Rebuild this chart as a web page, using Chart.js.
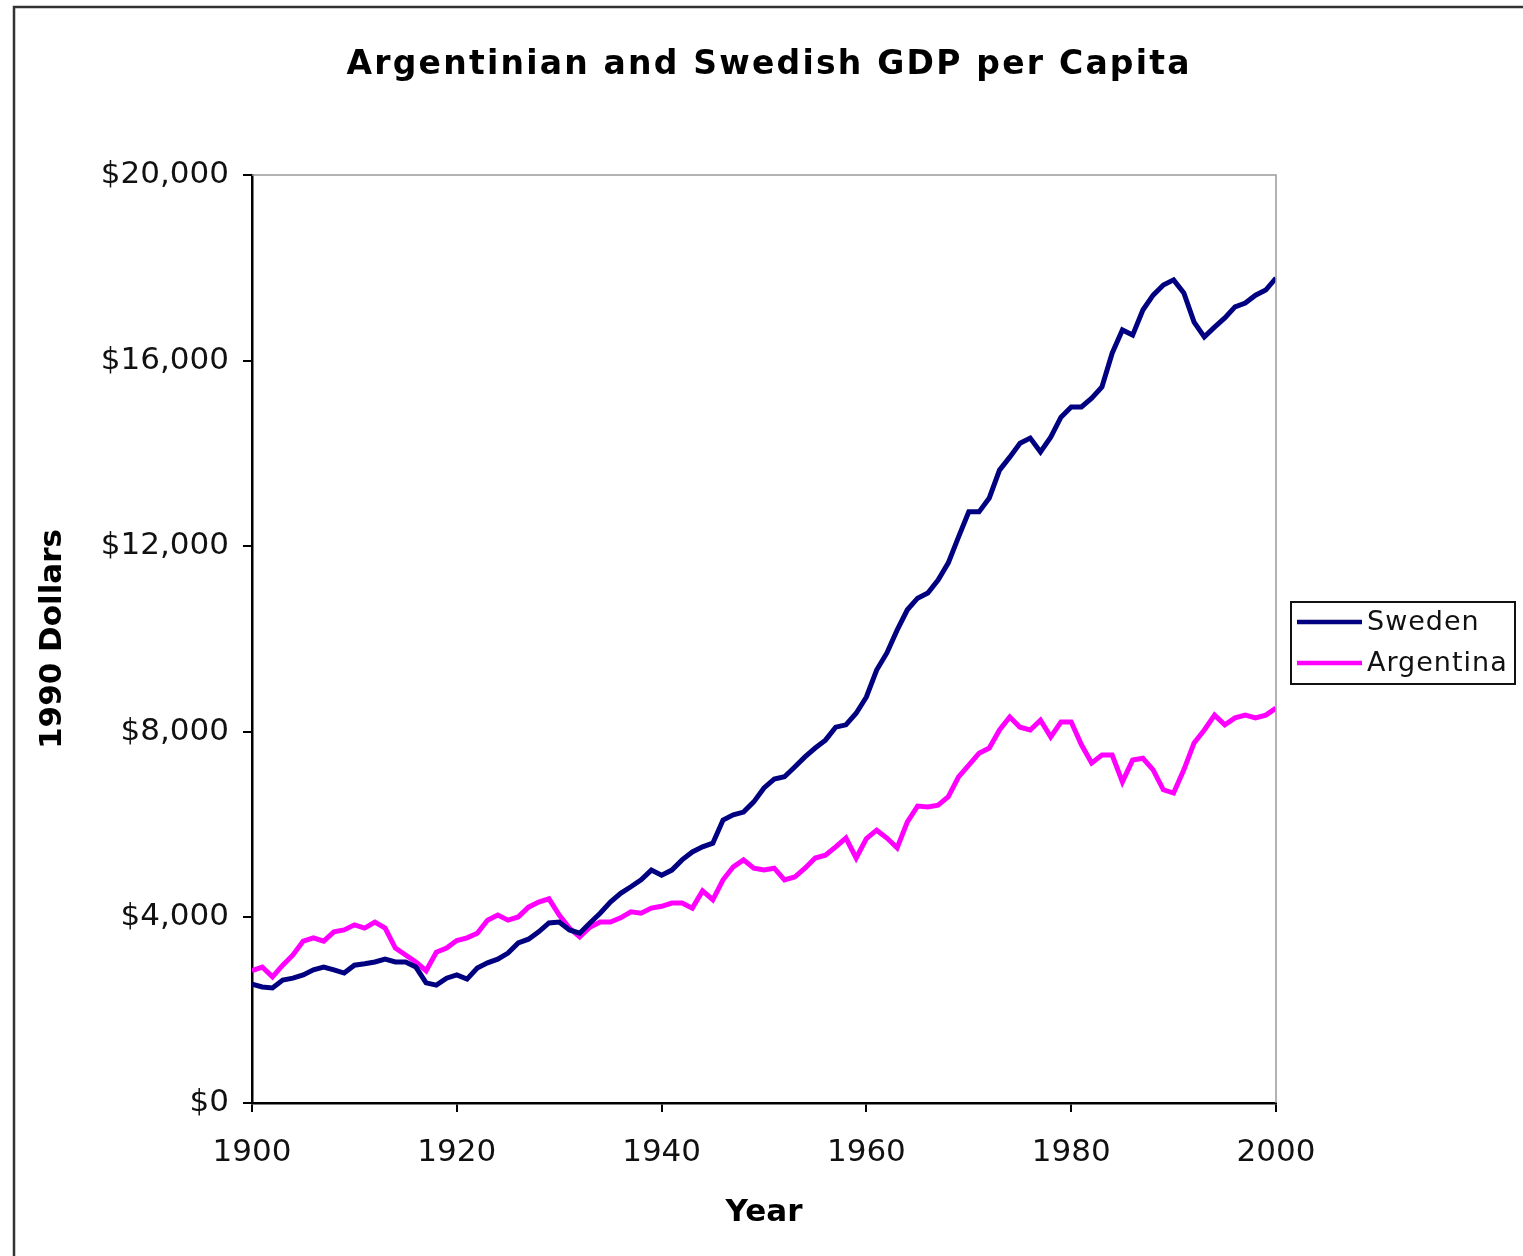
<!DOCTYPE html>
<html>
<head>
<meta charset="utf-8">
<title>Argentinian and Swedish GDP per Capita</title>
<script src="https://cdn.jsdelivr.net/npm/chart.js@4.4.1/dist/chart.umd.min.js"></script>
<style>
  html, body { margin: 0; padding: 0; background: #ffffff; }
  #wrap { width: 1523px; height: 1256px; position: relative; }
</style>
</head>
<body>
<div id="wrap"><canvas id="gdp" width="1523" height="1256"></canvas></div>
<script>
// GDP per capita, 1990 dollars
const chartTitle = 'Argentinian and Swedish GDP per Capita';
const xTitle = 'Year';
const yTitle = '1990 Dollars';

const years = [
  1900, 1901, 1902, 1903, 1904, 1905, 1906, 1907, 1908, 1909,
  1910, 1911, 1912, 1913, 1914, 1915, 1916, 1917, 1918, 1919,
  1920, 1921, 1922, 1923, 1924, 1925, 1926, 1927, 1928, 1929,
  1930, 1931, 1932, 1933, 1934, 1935, 1936, 1937, 1938, 1939,
  1940, 1941, 1942, 1943, 1944, 1945, 1946, 1947, 1948, 1949,
  1950, 1951, 1952, 1953, 1954, 1955, 1956, 1957, 1958, 1959,
  1960, 1961, 1962, 1963, 1964, 1965, 1966, 1967, 1968, 1969,
  1970, 1971, 1972, 1973, 1974, 1975, 1976, 1977, 1978, 1979,
  1980, 1981, 1982, 1983, 1984, 1985, 1986, 1987, 1988, 1989,
  1990, 1991, 1992, 1993, 1994, 1995, 1996, 1997, 1998, 1999,
  2000
];

const sweden = [
  2560, 2500, 2480, 2650, 2690, 2760, 2870, 2930, 2870, 2800,
  2970, 3000, 3040, 3100, 3040, 3040, 2930, 2590, 2540, 2690,
  2760, 2670, 2910, 3020, 3100, 3230, 3450, 3530, 3690, 3880,
  3900, 3730, 3660, 3880, 4090, 4330, 4520, 4660, 4810, 5020,
  4910, 5020, 5240, 5410, 5520, 5600, 6100, 6210, 6270, 6490,
  6790, 6980, 7030, 7240, 7460, 7650, 7820, 8100, 8150, 8400,
  8750, 9330, 9700, 10190, 10630, 10880, 10990, 11270, 11640, 12200,
  12740, 12740, 13040, 13640, 13920, 14220, 14330, 14030, 14350, 14780,
  15000, 15000, 15190, 15430, 16160, 16660, 16550, 17090, 17410, 17630,
  17740, 17460, 16830, 16510, 16720, 16920, 17160, 17240, 17410, 17520,
  17780
];

const argentina = [
  2850, 2930, 2720, 2970, 3190, 3490, 3560, 3490, 3690, 3730,
  3840, 3770, 3900, 3770, 3340, 3190, 3040, 2850, 3250, 3340,
  3500, 3560, 3660, 3940, 4050, 3940, 4010, 4220, 4330, 4400,
  4050, 3770, 3580, 3790, 3900, 3900, 3990, 4120, 4090, 4200,
  4240, 4310, 4310, 4200, 4570, 4380, 4810, 5090, 5240, 5060,
  5020, 5060, 4810, 4870, 5060, 5280, 5340, 5520, 5710, 5280,
  5700, 5880, 5710, 5500, 6060, 6400, 6380, 6420, 6600, 7030,
  7280, 7540, 7650, 8040, 8320, 8100, 8040, 8250, 7890, 8210,
  8210, 7720, 7330, 7500, 7500, 6920, 7390, 7430, 7180, 6750,
  6680, 7180, 7760, 8040, 8360, 8150, 8300, 8360, 8300, 8360,
  8510
];

const seriesNames = ['Sweden', 'Argentina'];
const seriesColors = ['#000080', '#ff00ff'];

const yTicks = [0, 4000, 8000, 12000, 16000, 20000];
const xTicks = [1900, 1920, 1940, 1960, 1980, 2000];

function toPoints(values) {
  return years.map((yr, i) => ({ x: yr, y: values[i] }));
}

// Frame round the whole figure, centred title, grey top/right plot edges
const framePlugin = {
  id: 'frame',
  beforeDraw(chart) {
    const ctx = chart.ctx;
    ctx.save();
    ctx.fillStyle = '#ffffff';
    ctx.fillRect(0, 0, chart.width, chart.height);
    ctx.strokeStyle = '#333333';
    ctx.lineWidth = 2.5;
    ctx.beginPath();
    ctx.moveTo(14, chart.height + 5);
    ctx.lineTo(14, 7);
    ctx.lineTo(chart.width + 5, 7);
    ctx.stroke();
    ctx.restore();
  },
  afterDatasetsDraw(chart) {
    const { ctx, chartArea } = chart;
    ctx.save();
    ctx.strokeStyle = '#9a9a9a';
    ctx.lineWidth = 1.5;
    ctx.beginPath();
    ctx.moveTo(chartArea.left, chartArea.top);
    ctx.lineTo(chartArea.right, chartArea.top);
    ctx.lineTo(chartArea.right, chartArea.bottom);
    ctx.stroke();
    ctx.restore();
  },
  afterDraw(chart) {
    const ctx = chart.ctx;
    ctx.save();
    ctx.fillStyle = '#000000';
    ctx.font = 'bold 33px "DejaVu Sans"';
    ctx.textBaseline = 'middle';
    ctx.textAlign = 'left';
    const targetWidth = 843;
    const plain = ctx.measureText(chartTitle).width;
    const spacing = Math.max(0, (targetWidth - plain) / (chartTitle.length - 1));
    if ('letterSpacing' in ctx) ctx.letterSpacing = spacing + 'px';
    const w = ctx.measureText(chartTitle).width;
    ctx.fillText(chartTitle, 768 - w / 2 + spacing / 2, 65);
    ctx.restore();
  }
};

// Boxed legend to the right of the plot
const legendBoxPlugin = {
  id: 'legendBox',
  afterDraw(chart) {
    const ctx = chart.ctx;
    const boxX = 1291, boxY = 602, boxW = 224, boxH = 82;
    ctx.save();
    ctx.fillStyle = '#ffffff';
    ctx.fillRect(boxX, boxY, boxW, boxH);
    ctx.strokeStyle = '#111111';
    ctx.lineWidth = 2;
    ctx.strokeRect(boxX, boxY, boxW, boxH);
    ctx.font = '27px "DejaVu Sans"';
    if ('letterSpacing' in ctx) ctx.letterSpacing = '1px';
    ctx.textBaseline = 'middle';
    ctx.textAlign = 'left';
    chart.data.datasets.forEach((ds, i) => {
      const cy = boxY + 20 + i * 41;
      ctx.strokeStyle = ds.borderColor;
      ctx.lineWidth = 4.5;
      ctx.beginPath();
      ctx.moveTo(boxX + 6, cy);
      ctx.lineTo(boxX + 71, cy);
      ctx.stroke();
      ctx.fillStyle = '#111111';
      ctx.fillText(ds.label, boxX + 76, cy + 1);
    });
    ctx.restore();
  }
};

const ctx = document.getElementById('gdp').getContext('2d');
new Chart(ctx, {
  type: 'line',
  data: {
    datasets: [
      {
        label: seriesNames[0],
        data: toPoints(sweden),
        borderColor: seriesColors[0],
        backgroundColor: seriesColors[0],
        borderWidth: 5,
        pointRadius: 0,
        tension: 0,
        fill: false
      },
      {
        label: seriesNames[1],
        data: toPoints(argentina),
        borderColor: seriesColors[1],
        backgroundColor: seriesColors[1],
        borderWidth: 5,
        pointRadius: 0,
        tension: 0,
        fill: false
      }
    ]
  },
  options: {
    responsive: false,
    animation: false,
    devicePixelRatio: 1,
    layout: { padding: { left: 30, top: 175, right: 247, bottom: 20 } },
    plugins: {
      legend: { display: false },
      title: { display: false },
      tooltip: { enabled: false }
    },
    scales: {
      x: {
        type: 'linear',
        min: 1900,
        max: 2000,
        afterBuildTicks(scale) { scale.ticks = xTicks.map(v => ({ value: v })); },
        afterFit(scale) { scale.height = 133; },
        border: { display: true, color: '#000000', width: 2.5 },
        grid: { drawOnChartArea: false, drawTicks: true, tickLength: 9, color: '#000000', lineWidth: 2 },
        ticks: {
          color: '#111111',
          font: { family: '"DejaVu Sans"', size: 31 },
          padding: 22,
          maxRotation: 0,
          callback: v => String(v)
        },
        title: {
          display: true,
          text: xTitle,
          color: '#000000',
          font: { family: '"DejaVu Sans"', size: 31, weight: 'bold' },
          padding: { top: 4, bottom: 4 }
        }
      },
      y: {
        type: 'linear',
        min: 0,
        max: 20000,
        afterBuildTicks(scale) { scale.ticks = yTicks.map(v => ({ value: v })); },
        afterFit(scale) { scale.width = 222; },
        border: { display: true, color: '#000000', width: 2.5 },
        grid: { drawOnChartArea: false, drawTicks: true, tickLength: 9, color: '#000000', lineWidth: 2 },
        ticks: {
          color: '#111111',
          font: { family: '"DejaVu Sans"', size: 31 },
          padding: 14,
          callback: v => '$' + Number(v).toLocaleString('en-US')
        },
        title: {
          display: true,
          text: yTitle,
          color: '#000000',
          font: { family: '"DejaVu Sans"', size: 31, weight: 'bold' },
          padding: { top: 4, bottom: 4 }
        }
      }
    }
  },
  plugins: [framePlugin, legendBoxPlugin]
});
</script>
</body>
</html>
